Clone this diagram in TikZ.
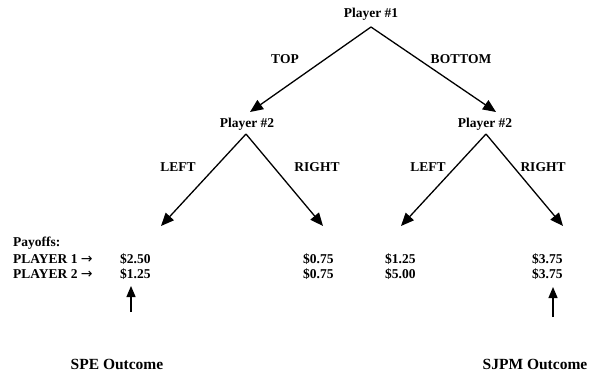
\documentclass[tikz,border=0pt]{standalone}
\usepackage{fontspec}
\setmainfont{Liberation Serif}
\newfontfamily\symfont{DejaVu Sans}
\usetikzlibrary{arrows.meta}
\newcommand{\rarr}{{\symfont\mdseries\fontsize{14}{15}\selectfont →}}
\begin{document}
\begin{tikzpicture}[x=1pt,y=-1pt,
  lbl/.style={font=\fontsize{13.5}{15}\selectfont\bfseries, inner sep=0pt},
  outc/.style={font=\fontsize{15.5}{18}\selectfont\bfseries, inner sep=0pt},
  branch/.style={line width=1.3pt, -{Triangle[length=13pt,width=11pt]}},
  upar/.style={line width=1.3pt, -{Triangle[length=11pt,width=9pt]}}]
\useasboundingbox (0,0) rectangle (589,373);
% decision nodes
\node[lbl] (p1) at (371,14) {Player \#1};
\node[lbl] (p2l) at (247,124) {Player \#2};
\node[lbl] (p2r) at (485,124) {Player \#2};
% branch points
\coordinate (a1) at (371,27);
\coordinate (t1) at (250,112);
\coordinate (t2) at (496,112);
\coordinate (a2) at (246,134);
\coordinate (a3) at (486,134);
\coordinate (e1) at (161,226);
\coordinate (e2) at (323,226);
\coordinate (e3) at (401,226);
\coordinate (e4) at (563,226);
\draw[branch] (a1) -- (t1);
\draw[branch] (a1) -- (t2);
\draw[branch] (a2) -- (e1);
\draw[branch] (a2) -- (e2);
\draw[branch] (a3) -- (e3);
\draw[branch] (a3) -- (e4);
% branch labels
\node[lbl] (top) at (285,59) {TOP};
\node[lbl] (bot) at (461,59) {BOTTOM};
\node[lbl] (l1) at (178,167) {LEFT};
\node[lbl] (r1) at (317,167) {RIGHT};
\node[lbl] (l2) at (428,167) {LEFT};
\node[lbl] (r2) at (543,167) {RIGHT};
% payoffs
\node[lbl, anchor=west] (pay) at (13,243) {Payoffs:};
\node[lbl, anchor=west] (pl1) at (13,259) {PLAYER 1 \rarr};
\node[lbl, anchor=west] (pl2) at (13,274) {PLAYER 2 \rarr};
\node[lbl, anchor=west] (v11) at (120,259) {\$2.50};
\node[lbl, anchor=west] (v12) at (120,274) {\$1.25};
\node[lbl, anchor=west] (v21) at (303,259) {\$0.75};
\node[lbl, anchor=west] (v22) at (303,274) {\$0.75};
\node[lbl, anchor=west] (v31) at (385,259) {\$1.25};
\node[lbl, anchor=west] (v32) at (385,274) {\$5.00};
\node[lbl, anchor=west] (v41) at (532,259) {\$3.75};
\node[lbl, anchor=west] (v42) at (532,274) {\$3.75};
% outcome arrows
\coordinate (s1) at (131,312);
\coordinate (s2) at (131,286);
\coordinate (s3) at (553,317);
\coordinate (s4) at (553,287);
\draw[upar] (s1) -- (s2);
\draw[upar] (s3) -- (s4);
\node[outc] (spe) at (117,364) {SPE Outcome};
\node[outc] (sjpm) at (535,364) {SJPM Outcome};
\end{tikzpicture}
\end{document}
